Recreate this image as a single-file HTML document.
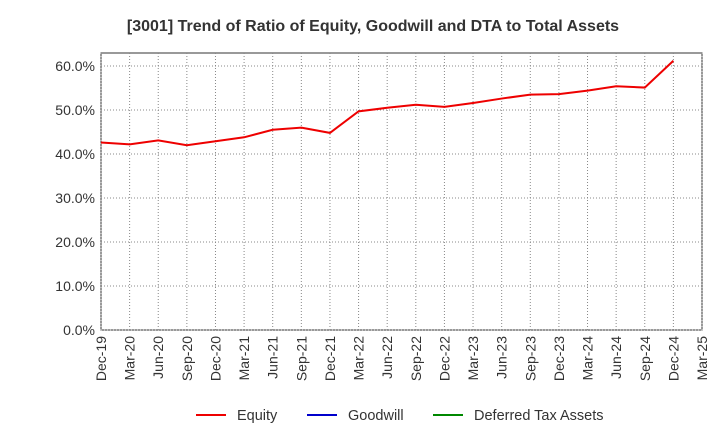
<!DOCTYPE html>
<html><head><meta charset="utf-8"><style>
body{margin:0;background:#fff;font-family:"Liberation Sans",sans-serif;}
svg text{font-family:"Liberation Sans",sans-serif;}
</style></head><body>
<svg id="chart" width="720" height="440" xmlns="http://www.w3.org/2000/svg">
<text x="373" y="31" text-anchor="middle" font-size="16" font-weight="bold" fill="#333">[3001]  Trend of Ratio of Equity, Goodwill and DTA to Total Assets</text>
<g id="grid"></g><g id="axes"></g><g id="series"></g>
<g>
<g><line x1="196" y1="415" x2="226" y2="415" stroke="#e00" stroke-width="2"/><text x="237" y="420" font-size="14.5" fill="#333">Equity</text></g>
<g><line x1="307" y1="415" x2="337" y2="415" stroke="#00c" stroke-width="2"/><text x="348" y="420" font-size="14.5" fill="#333">Goodwill</text></g>
<g><line x1="433" y1="415" x2="463" y2="415" stroke="#080" stroke-width="2"/><text x="474" y="420" font-size="14.5" fill="#333">Deferred Tax Assets</text></g>
</g>
</svg>
<script>
const categories=["Dec-19","Mar-20","Jun-20","Sep-20","Dec-20","Mar-21","Jun-21","Sep-21","Dec-21","Mar-22","Jun-22","Sep-22","Dec-22","Mar-23","Jun-23","Sep-23","Dec-23","Mar-24","Jun-24","Sep-24","Dec-24","Mar-25"];
const equity=[42.6,42.2,43.1,42.0,42.9,43.8,45.5,46.0,44.8,49.7,50.5,51.2,50.7,51.6,52.6,53.5,53.6,54.4,55.4,55.1,61.2];
const yTicks=[0,10,20,30,40,50,60];
const NS="http://www.w3.org/2000/svg";
const L=101,R=702,T=53,B=330;
const x=i=>L+(R-L)*i/(categories.length-1);
const y=v=>B-v*(B-66)/60;
function mk(tag,attrs,parent){const e=document.createElementNS(NS,tag);for(const k in attrs)e.setAttribute(k,attrs[k]);document.getElementById(parent).appendChild(e);return e;}
const bg=mk('rect',{x:L,y:T,width:R-L,height:B-T,fill:'#fff',stroke:'#333','stroke-width':1},'grid');


yTicks.forEach(v=>{
 const g=mk('line',{x1:L,x2:R,y1:y(v),y2:y(v),stroke:'#888','stroke-dasharray':'1,2'},'grid');
 
 
 const t=mk('text',{x:L-6,y:y(v)+5,'text-anchor':'end','font-size':14,fill:'#333'},'axes');
 t.textContent=v.toFixed(1)+'%';
 
 
});
categories.forEach((c,i)=>{
 const g=mk('line',{x1:x(i),x2:x(i),y1:T,y2:B,stroke:'#888','stroke-dasharray':'1,2'},'grid');
 
 
 const t=mk('text',{x:0,y:0,'text-anchor':'end','font-size':14,fill:'#333',transform:`translate(${x(i)+5},${B+6}) rotate(-90)`},'axes');
 t.textContent=c;
 
 
});
const p=mk('polyline',{points:equity.map((v,i)=>x(i)+','+y(v)).join(' '),fill:'none',stroke:'#e00','stroke-width':2},'series');


</script>
</body></html>
